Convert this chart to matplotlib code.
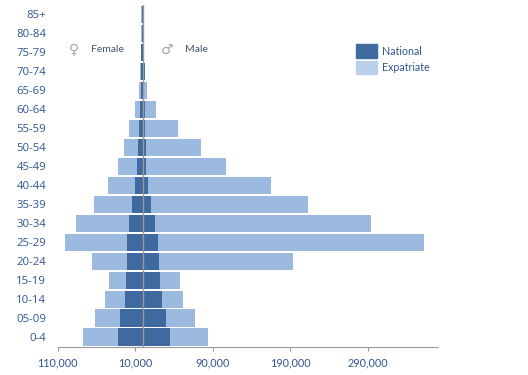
import matplotlib
matplotlib.use("Agg")
from matplotlib import pyplot as plt
from matplotlib.patches import Patch

plt.rcParams["font.family"] = ["Lato", "DejaVu Sans"]

age_groups = ["0-4", "05-09", "10-14", "15-19", "20-24", "25-29", "30-34", "35-39", "40-44",
              "45-49", "50-54", "55-59", "60-64", "65-69", "70-74", "75-79", "80-84", "85+"]

female_national = [32300, 29300, 22800, 21500, 20200, 20200, 18100, 13800, 9500,
                   7300, 6500, 5600, 4300, 3000, 2600, 2400, 500, 500]
female_expat = [45200, 32300, 26300, 22000, 45700, 80100, 68500, 49100, 35300,
                25000, 18000, 12100, 5600, 2200, 1300, 300, 1400, 1300]
male_national = [34400, 30100, 24500, 22400, 20200, 19000, 15500, 10300, 6800,
                 4700, 3900, 3400, 2600, 1300, 2200, 900, 400, 400]
male_expat = [49200, 36700, 27200, 25000, 173200, 342800, 278700, 202100, 158600,
              103000, 70600, 41800, 14200, 4400, 300, 300, 1000, 1000]

x_ticks = [-110000, -10000, 90000, 190000, 290000]
x_labels = ["110,000", "10,000", "90,000", "190,000", "290,000"]

NATIONAL = "#3E6A9F"
EXPAT = "#9CBAE0"
TEXT = "#2F5592"
GREY = "#9A9A9A"

fig = plt.figure(figsize=(5.28, 3.75), dpi=100)
ax = fig.add_axes([57.5 / 528, 1 - 346.7 / 375, 380.2 / 528, 341.7 / 375])

ypos = list(range(len(age_groups)))
bar_style = dict(height=0.92, linewidth=0)
ax.barh(ypos, [-v for v in female_national], color=NATIONAL, **bar_style)
ax.barh(ypos, [-v for v in female_expat], left=[-v for v in female_national], color=EXPAT, **bar_style)
ax.barh(ypos, male_national, color=NATIONAL, **bar_style)
ax.barh(ypos, male_expat, left=male_national, color=EXPAT, **bar_style)
ax.axvline(0, color=GREY, linewidth=1, zorder=5)

ax.set_xlim(-110000, 380000)
ax.set_ylim(-0.5, len(age_groups) - 0.5)
ax.set_yticks(ypos)
ax.set_yticklabels(age_groups, family="Open Sans")
ax.set_xticks(x_ticks)
ax.set_xticklabels(x_labels)
ax.tick_params(axis="y", length=0, pad=8, labelsize=8.2, labelcolor=TEXT)
ax.tick_params(axis="x", length=3, width=0.8, color=GREY, pad=5, labelsize=7.8, labelcolor=TEXT)

for side in ["top", "right", "left"]:
    ax.spines[side].set_visible(False)
ax.spines["bottom"].set_color(GREY)

# gender markers, placed in pixels from the top left
fig.text(73.5 / 528, 1 - 49 / 375, "\u2640", family="DejaVu Sans", fontsize=10, color="#A5A5A5", ha="center", va="center")
fig.text(91.5 / 528, 1 - 49 / 375, "Female", fontsize=7.5, color="#44546A", ha="left", va="center")
fig.text(167 / 528, 1 - 50 / 375, "\u2642", family="DejaVu Sans", fontsize=10, color="#A5A5A5", ha="center", va="center")
fig.text(185.5 / 528, 1 - 50 / 375, "Male", fontsize=7.5, color="#44546A", ha="left", va="center")

handles = [Patch(color=NATIONAL, label="National"), Patch(color="#BBD0EA", label="Expatriate")]
ax.legend(handles=handles, loc="upper left", bbox_to_anchor=(356 / 528, 1 - 44.5 / 375),
          bbox_transform=fig.transFigure, frameon=False, fontsize=7.7, labelcolor=TEXT,
          handlelength=2.0, handleheight=1.55, handletextpad=0.4, labelspacing=0.3,
          borderpad=0, borderaxespad=0)

fig.savefig("out.png", dpi=100)
